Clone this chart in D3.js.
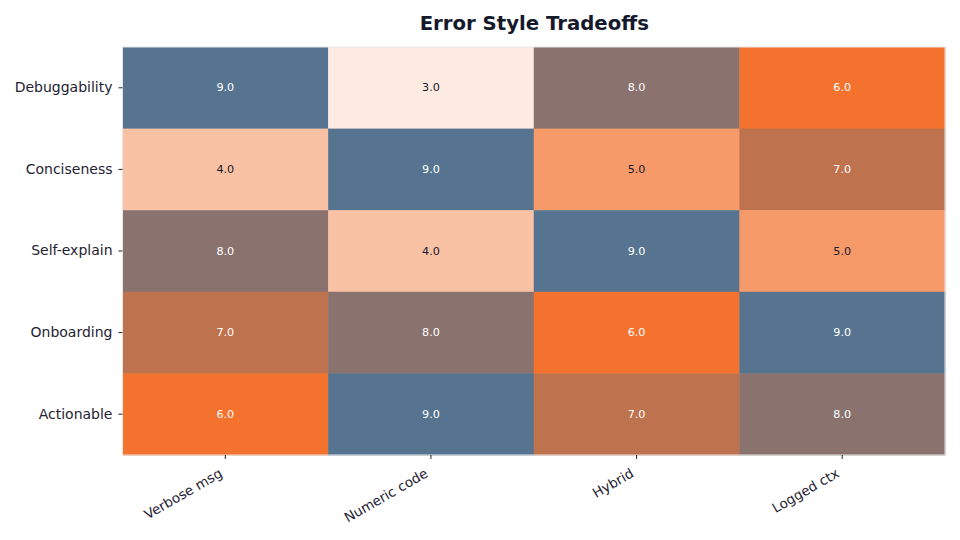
<!DOCTYPE html>
<html><head><meta charset="utf-8">
<script src="https://cdn.jsdelivr.net/npm/d3@7"></script>
<style>body{margin:0;background:#fff}svg{display:block}text{font-family:"DejaVu Sans",sans-serif}</style>
</head><body><svg id="c" width="960" height="540"></svg>
<script>
const title = "Error Style Tradeoffs";
const columns = ["Verbose msg", "Numeric code", "Hybrid", "Logged ctx"];
const rows = ["Debuggability", "Conciseness", "Self-explain", "Onboarding", "Actionable"];
const debuggability = [9, 3, 8, 6];
const conciseness = [4, 9, 5, 7];
const selfExplain = [8, 4, 9, 5];
const onboarding = [7, 8, 6, 9];
const actionable = [6, 9, 7, 8];
const values = [debuggability, conciseness, selfExplain, onboarding, actionable];

const svg = d3.select("#c");
const m = {l: 122.5, r: 945, t: 47, b: 455};
const x = d3.scaleBand().domain(columns).range([m.l, m.r]);
const y = d3.scaleBand().domain(rows).range([m.t, m.b]);
const color = d3.scaleLinear().domain([3, 6, 9]).range(["#fdeae0", "#f2722e", "#56748f"]);

const cells = [];
rows.forEach((r, i) => columns.forEach((c, j) => cells.push({r, c, v: values[i][j]})));

svg.append("g").selectAll("rect").data(cells).join("rect")
  .attr("x", d => x(d.c)).attr("y", d => y(d.r))
  .attr("width", x.bandwidth() + 0.5).attr("height", y.bandwidth() + 0.5)
  .attr("fill", d => color(d.v));

svg.append("rect").attr("x", m.l).attr("y", m.t).attr("width", m.r - m.l).attr("height", m.b - m.t)
  .attr("fill", "none").attr("stroke", "#e6e6e6").attr("stroke-width", 1);

svg.append("g").selectAll("text").data(cells).join("text")
  .attr("x", d => x(d.c) + x.bandwidth() / 2).attr("y", d => y(d.r) + y.bandwidth() / 2)
  .attr("text-anchor", "middle").attr("dominant-baseline", "central")
  .attr("font-size", 11.2).attr("fill", d => d.v >= 6 ? "#ffffff" : "#1a1a2e")
  .text(d => d.v.toFixed(1));

const gx = svg.append("g").attr("transform", `translate(0,${m.b})`)
  .call(d3.axisBottom(x).tickSize(4).tickPadding(4));
gx.select(".domain").remove();
gx.selectAll("line").attr("stroke", "#222");
gx.selectAll("text").attr("font-size", 13.5).attr("fill", "#1f2233")
  .attr("text-anchor", "end").attr("y", 0).attr("dy", 0)
  .attr("transform", "translate(-2,21) rotate(-30)");

const gy = svg.append("g").attr("transform", `translate(${m.l},0)`)
  .call(d3.axisLeft(y).tickSize(4).tickPadding(6));
gy.select(".domain").remove();
gy.selectAll("line").attr("stroke", "#222");
gy.selectAll("text").attr("font-size", 14).attr("fill", "#1f2233");

svg.append("text").attr("x", (m.l + m.r) / 2 + 0.5).attr("y", 30).attr("text-anchor", "middle")
  .attr("font-size", 19.7).attr("font-weight", "bold").attr("fill", "#141a2b").text(title);
</script></body></html>
